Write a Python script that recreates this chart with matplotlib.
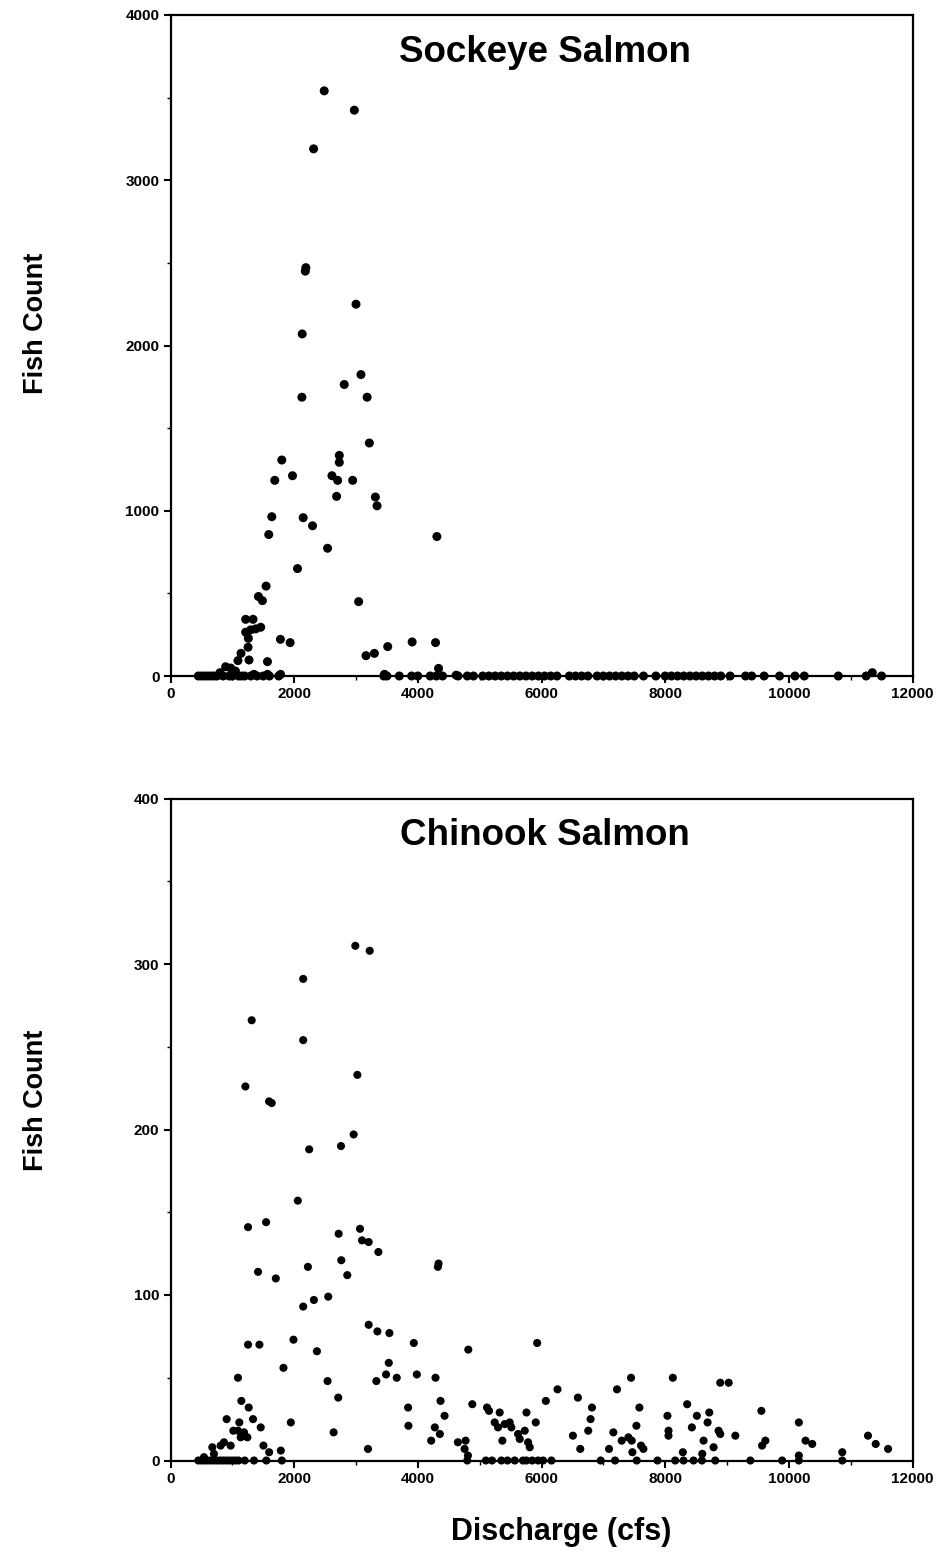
import numpy as np
import matplotlib.pyplot as plt
from matplotlib.ticker import MultipleLocator

plt.rcParams['font.family'] = ['Liberation Sans', 'DejaVu Sans']
plt.rcParams['font.weight'] = 'bold'

# Sockeye salmon: discharge (cfs) vs fish count
sockeye_q = [2486, 2973, 2314, 2189, 2180, 3000, 2130, 3080, 2810, 2125, 3180, 3216,
             2730, 2730, 1800, 1973, 1686, 2611, 2703, 2946, 2686, 3313, 3340, 1638,
             2146, 2297, 1589, 4308, 2540, 2054, 1546, 1422, 1486, 3043, 1216, 1335,
             1216, 1297, 1378, 1459, 1259, 1254, 1778, 1935, 1140, 1091, 1270, 1568,
             3162, 3297, 3513, 3908, 4286, 4335, 892, 973, 1050, 800, 1350, 1570,
             1780, 3460, 4620, 11350,
             450, 500, 550, 600, 650, 700, 750, 850, 950, 1000, 1100, 1150, 1200,
             1300, 1400, 1500, 1600, 1750, 3450, 3500, 3700, 3900, 4000, 4200, 4300,
             4400, 4650, 4800, 4900, 5050, 5150, 5250, 5350, 5450, 5550, 5650, 5750,
             5850, 5950, 6050, 6150, 6250, 6450, 6550, 6650, 6750, 6900, 7000, 7100,
             7200, 7300, 7400, 7500, 7650, 7850, 8000, 8100, 8200, 8300, 8400, 8500,
             8600, 8700, 8800, 8900, 9050, 9300, 9400, 9600, 9850, 10100, 10250,
             10800, 11250, 11500]
sockeye_n = [3541, 3424, 3190, 2471, 2450, 2250, 2070, 1824, 1764, 1687, 1687, 1410,
             1335, 1293, 1307, 1212, 1184, 1212, 1184, 1184, 1087, 1083, 1030, 964,
             958, 909, 856, 844, 773, 650, 544, 481, 456, 450, 343, 343,
             265, 279, 285, 295, 228, 174, 222, 202, 137, 93, 97, 87,
             123, 137, 178, 206, 202, 46, 56, 48, 30, 20, 10, 10,
             10, 10, 5, 20,
             0, 0, 0, 0, 0, 0, 0, 0, 0, 0, 0, 0, 0,
             0, 0, 0, 0, 0, 0, 0, 0, 0, 0, 0, 0,
             0, 0, 0, 0, 0, 0, 0, 0, 0, 0, 0, 0,
             0, 0, 0, 0, 0, 0, 0, 0, 0, 0, 0, 0,
             0, 0, 0, 0, 0, 0, 0, 0, 0, 0, 0, 0,
             0, 0, 0, 0, 0, 0, 0, 0, 0, 0, 0,
             0, 0, 0]

# Chinook salmon
chinook_q = [2989, 3222, 2146, 1313, 2146, 3022, 1211, 1594, 1637, 2962, 2757, 2243,
             2059, 1546, 1254, 3065, 2719, 3097, 3205, 3362, 2762, 4335, 4324, 2222,
             1416, 2859, 1703, 2551, 2319, 2146, 3205, 3346, 3540, 1989, 1254, 1438,
             3935, 4816, 5930, 2368, 3530, 1827, 3486, 3984, 3659, 4286, 1091, 3329,
             2540, 2713, 1146, 4367, 4881, 1265, 3843, 5119, 5151, 5324, 5757, 6070,
             4432, 908, 1335, 5907, 1946, 3848, 1113, 1459, 4275, 2638, 4356, 4216,
             5367, 3194,
             5243, 5297, 5405, 5486, 5513, 1016, 1092, 1189, 1135, 1243, 4648, 4773,
             5621, 5729, 5648, 5783, 5810, 4756, 4810, 676, 811, 973, 865, 1503,
             1595, 1784, 541, 703,
             7448, 8124, 8891, 9027, 6259, 7221, 6589, 8356, 6816, 7583, 9556, 8713,
             8037, 8513, 6794, 8686, 10162, 7535, 8432, 6756, 8054, 8864, 8891, 7162,
             8054, 9135, 11280, 6508, 7297, 7405, 7459, 8621, 9621, 10270, 10378, 11405,
             9567, 11605, 8783, 6627, 7092, 7648, 7610, 7470, 8286, 8600, 10162, 10864,
             450, 500, 550, 600, 650, 700, 750, 800, 850, 900, 950, 1000, 1050, 1100,
             1200, 1350, 1550, 1800, 4800, 5100, 5200, 5351, 5450, 5567, 5700, 5756,
             5850, 5945, 6026, 6161, 6957, 7189, 7540, 7876, 8162, 8297, 8459, 8594,
             8810, 9378, 9892, 10162, 10864]
chinook_n = [311, 308, 291, 266, 254, 233, 226, 217, 216, 197, 190, 188,
             157, 144, 141, 140, 137, 133, 132, 126, 121, 119, 117, 117,
             114, 112, 110, 99, 97, 93, 82, 78, 77, 73, 70, 70,
             71, 67, 71, 66, 59, 56, 52, 52, 50, 50, 50, 48,
             48, 38, 36, 36, 34, 32, 32, 32, 30, 29, 29, 36,
             27, 25, 25, 23, 23, 21, 23, 20, 20, 17, 16, 12,
             12, 7,
             23, 20, 22, 23, 20, 18, 18, 17, 14, 14, 11, 12,
             16, 18, 13, 11, 8, 7, 3, 8, 9, 9, 11, 9,
             5, 6, 2, 4,
             50, 50, 47, 47, 43, 43, 38, 34, 32, 32, 30, 29,
             27, 27, 25, 23, 23, 21, 20, 18, 18, 18, 16, 17,
             15, 15, 15, 15, 12, 14, 12, 12, 12, 12, 10, 10,
             9, 7, 8, 7, 7, 7, 9, 5, 5, 4, 3, 5,
             0, 0, 0, 0, 0, 0, 0, 0, 0, 0, 0, 0, 0, 0,
             0, 0, 0, 0, 0, 0, 0, 0, 0, 0, 0, 0,
             0, 0, 0, 0, 0, 0, 0, 0, 0, 0, 0, 0,
             0, 0, 0, 0, 0]

W, H = 939, 1554
fig = plt.figure(figsize=(W / 100, H / 100), dpi=100)

def setup(ax, ymax, ystep, title, q, n, size):
    ax.scatter(q, n, s=size, color='black', edgecolors='none', zorder=3, clip_on=False)
    ax.set_xlim(0, 12000)
    ax.set_ylim(0, ymax)
    ax.xaxis.set_major_locator(MultipleLocator(2000))
    ax.xaxis.set_minor_locator(MultipleLocator(1000))
    ax.yaxis.set_major_locator(MultipleLocator(ystep))
    ax.yaxis.set_minor_locator(MultipleLocator(ystep / 2))
    for s in ax.spines.values():
        s.set_linewidth(1.6)
    ax.tick_params(which='major', direction='out', length=5, width=1.5,
                   labelsize=11, pad=3)
    ax.tick_params(which='minor', direction='out', length=3, width=1.0)
    for lab in ax.get_xticklabels() + ax.get_yticklabels():
        lab.set_fontweight('bold')
    ax.text(0.505, 0.944, title, transform=ax.transAxes, ha='center', va='center',
            fontsize=26.5, fontweight='bold')

ax1 = fig.add_axes([170.5 / W, 1 - 676 / H, 742 / W, 661 / H])
setup(ax1, 4000, 1000, 'Sockeye Salmon', sockeye_q, sockeye_n, 42)

ax2 = fig.add_axes([170.5 / W, 1 - 1460.5 / H, 742 / W, 662 / H])
setup(ax2, 400, 100, 'Chinook Salmon', chinook_q, chinook_n, 34)

fig.text(36 / W, 1 - 323 / H, 'Fish Count', rotation=90, ha='center', va='center',
         fontsize=19.5, fontweight='bold')
fig.text(36 / W, 1 - 1100 / H, 'Fish Count', rotation=90, ha='center', va='center',
         fontsize=19.5, fontweight='bold')
fig.text(561 / W, 1 - 1532 / H, 'Discharge (cfs)', ha='center', va='center',
         fontsize=22, fontweight='bold')

fig.savefig('out.png', dpi=100)
